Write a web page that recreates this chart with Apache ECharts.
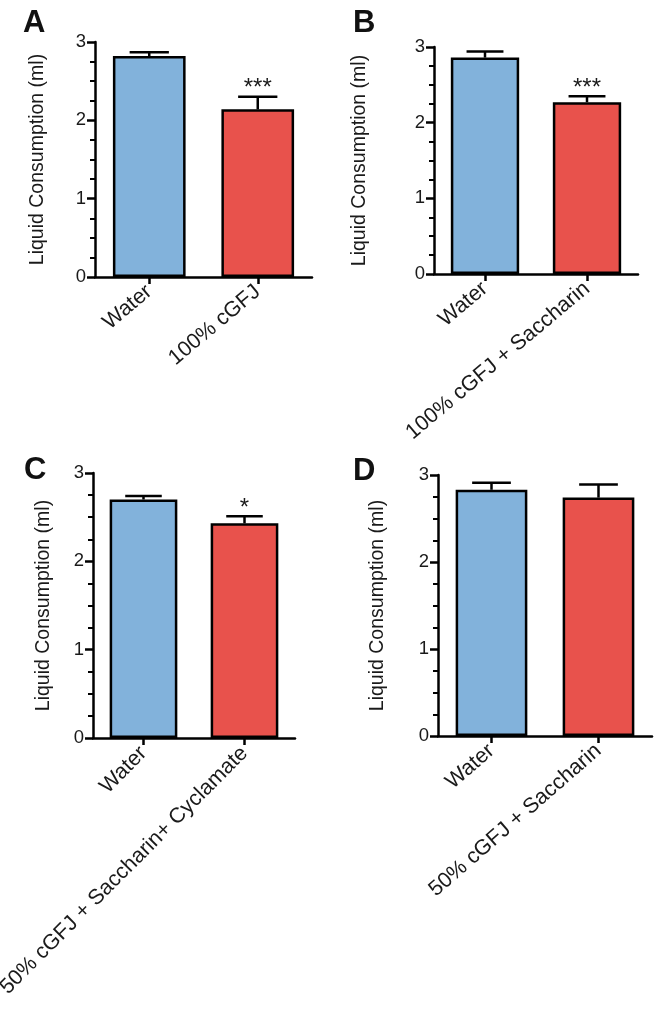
<!DOCTYPE html>
<html>
<head>
<meta charset="utf-8">
<script src="https://cdn.jsdelivr.net/npm/echarts@6/dist/echarts.min.js"></script>
<style>
html,body{margin:0;padding:0;background:#fff;}
#chart{width:659px;height:1013px;}
</style>
</head>
<body>
<div id="chart"></div>
<script>
// ---- Data ----
const panelLetters = ['A', 'B', 'C', 'D'];
const categoriesA = ['Water', '100% cGFJ'];
const meansA = [2.82, 2.14];
const semA = [0.05, 0.16];
const sigA = ['', '***'];

const categoriesB = ['Water', '100% cGFJ + Saccharin'];
const meansB = [2.86, 2.27];
const semB = [0.08, 0.08];
const sigB = ['', '***'];

const categoriesC = ['Water', '50% cGFJ + Saccharin+ Cyclamate'];
const meansC = [2.70, 2.43];
const semC = [0.04, 0.08];
const sigC = ['', '*'];

const categoriesD = ['Water', '50% cGFJ + Saccharin'];
const meansD = [2.83, 2.74];
const semD = [0.08, 0.15];
const sigD = ['', ''];

const yTicks = [0, 1, 2, 3];
const yAxisName = 'Liquid Consumption (ml)';
const barColors = ['#82B2DB', '#E8524C'];

// ---- Layout ----
const FONT = '"Liberation Sans", Arial, Helvetica, sans-serif';
const panels = [
  {cats: categoriesA, means: meansA, sem: semA, sig: sigA, grid: {left: 95, top: 42, width: 217, height: 235}, nameGap: 57, rot: 40, letter: [23, 8]},
  {cats: categoriesB, means: meansB, sem: semB, sig: sigB, grid: {left: 434, top: 47, width: 204, height: 227}, nameGap: 74, rot: 40, letter: [353, 8]},
  {cats: categoriesC, means: meansC, sem: semC, sig: sigC, grid: {left: 93, top: 473, width: 202, height: 265}, nameGap: 49, rot: 45, letter: [24, 455]},
  {cats: categoriesD, means: meansD, sem: semD, sig: sigD, grid: {left: 438, top: 475, width: 214, height: 261}, nameGap: 60, rot: 41, letter: [353, 456]}
];

const BAR_FRAC = 0.67;
const grids = [], xAxes = [], yAxes = [], series = [], graphics = [];

panels.forEach((p, k) => {
  grids.push(Object.assign({outerBoundsMode: 'none', containLabel: false}, p.grid));
  xAxes.push({
    type: 'category', gridIndex: k, data: p.cats,
    axisLine: {lineStyle: {color: '#000', width: 2.5}},
    axisTick: {show: true, alignWithLabel: true, length: 7, lineStyle: {color: '#000', width: 2.5}},
    axisLabel: {rotate: p.rot, margin: 12, interval: 0, color: '#1a1a1a', fontSize: 21.5, fontFamily: FONT}
  });
  yAxes.push({
    type: 'value', gridIndex: k, min: yTicks[0], max: yTicks[yTicks.length - 1], interval: 1,
    name: yAxisName, nameLocation: 'middle', nameGap: p.nameGap, nameRotate: 90,
    nameTextStyle: {fontSize: 19.5, color: '#1a1a1a', fontFamily: FONT, verticalAlign: 'middle'},
    axisLine: {show: true, lineStyle: {color: '#000', width: 2.5}},
    axisTick: {show: true, length: 8, lineStyle: {color: '#000', width: 2.5}},
    minorTick: {show: true, splitNumber: 4, length: 5, lineStyle: {color: '#000', width: 2}},
    splitLine: {show: false},
    axisLabel: {margin: 9, color: '#1a1a1a', fontSize: 18.5, fontFamily: FONT}
  });
  series.push({
    type: 'bar', xAxisIndex: k, yAxisIndex: k, barWidth: (BAR_FRAC * 100) + '%',
    data: p.means.map((v, i) => ({value: v, itemStyle: {color: barColors[i]}})),
    itemStyle: {borderColor: '#000', borderWidth: 2.5},
    silent: true, z: 2
  });
  series.push({
    type: 'custom', xAxisIndex: k, yAxisIndex: k, z: 5, silent: true,
    data: p.means.map((v, i) => [i, v, p.sem[i]]),
    renderItem: function (params, api) {
      const i = api.value(0), m = api.value(1), e = api.value(2);
      const base = api.coord([i, m]);
      const top = api.coord([i, m + e]);
      const bw = api.size([1, 0])[0] * BAR_FRAC;
      const half = bw * 0.27;
      const style = {stroke: '#000', lineWidth: 2.5};
      const children = [
        {type: 'line', shape: {x1: base[0], y1: base[1], x2: top[0], y2: top[1]}, style: style},
        {type: 'line', shape: {x1: top[0] - half, y1: top[1], x2: top[0] + half, y2: top[1]}, style: style}
      ];
      const s = p.sig[params.dataIndex];
      if (s) {
        children.push({type: 'text', x: top[0], y: top[1] + 4,
          style: {text: s, fontSize: 24, fontFamily: FONT, fill: '#1a1a1a', align: 'center', verticalAlign: 'bottom'}});
      }
      return {type: 'group', children: children};
    }
  });
  graphics.push({type: 'text', left: p.letter[0], top: p.letter[1],
    style: {text: panelLetters[k], fontSize: 31, fontWeight: 'bold', fontFamily: FONT, fill: '#111'}});
});

const chart = echarts.init(document.getElementById('chart'), null, {renderer: 'canvas'});
chart.setOption({
  animation: false,
  backgroundColor: '#fff',
  grid: grids, xAxis: xAxes, yAxis: yAxes, series: series, graphic: graphics
});
</script>
</body>
</html>
